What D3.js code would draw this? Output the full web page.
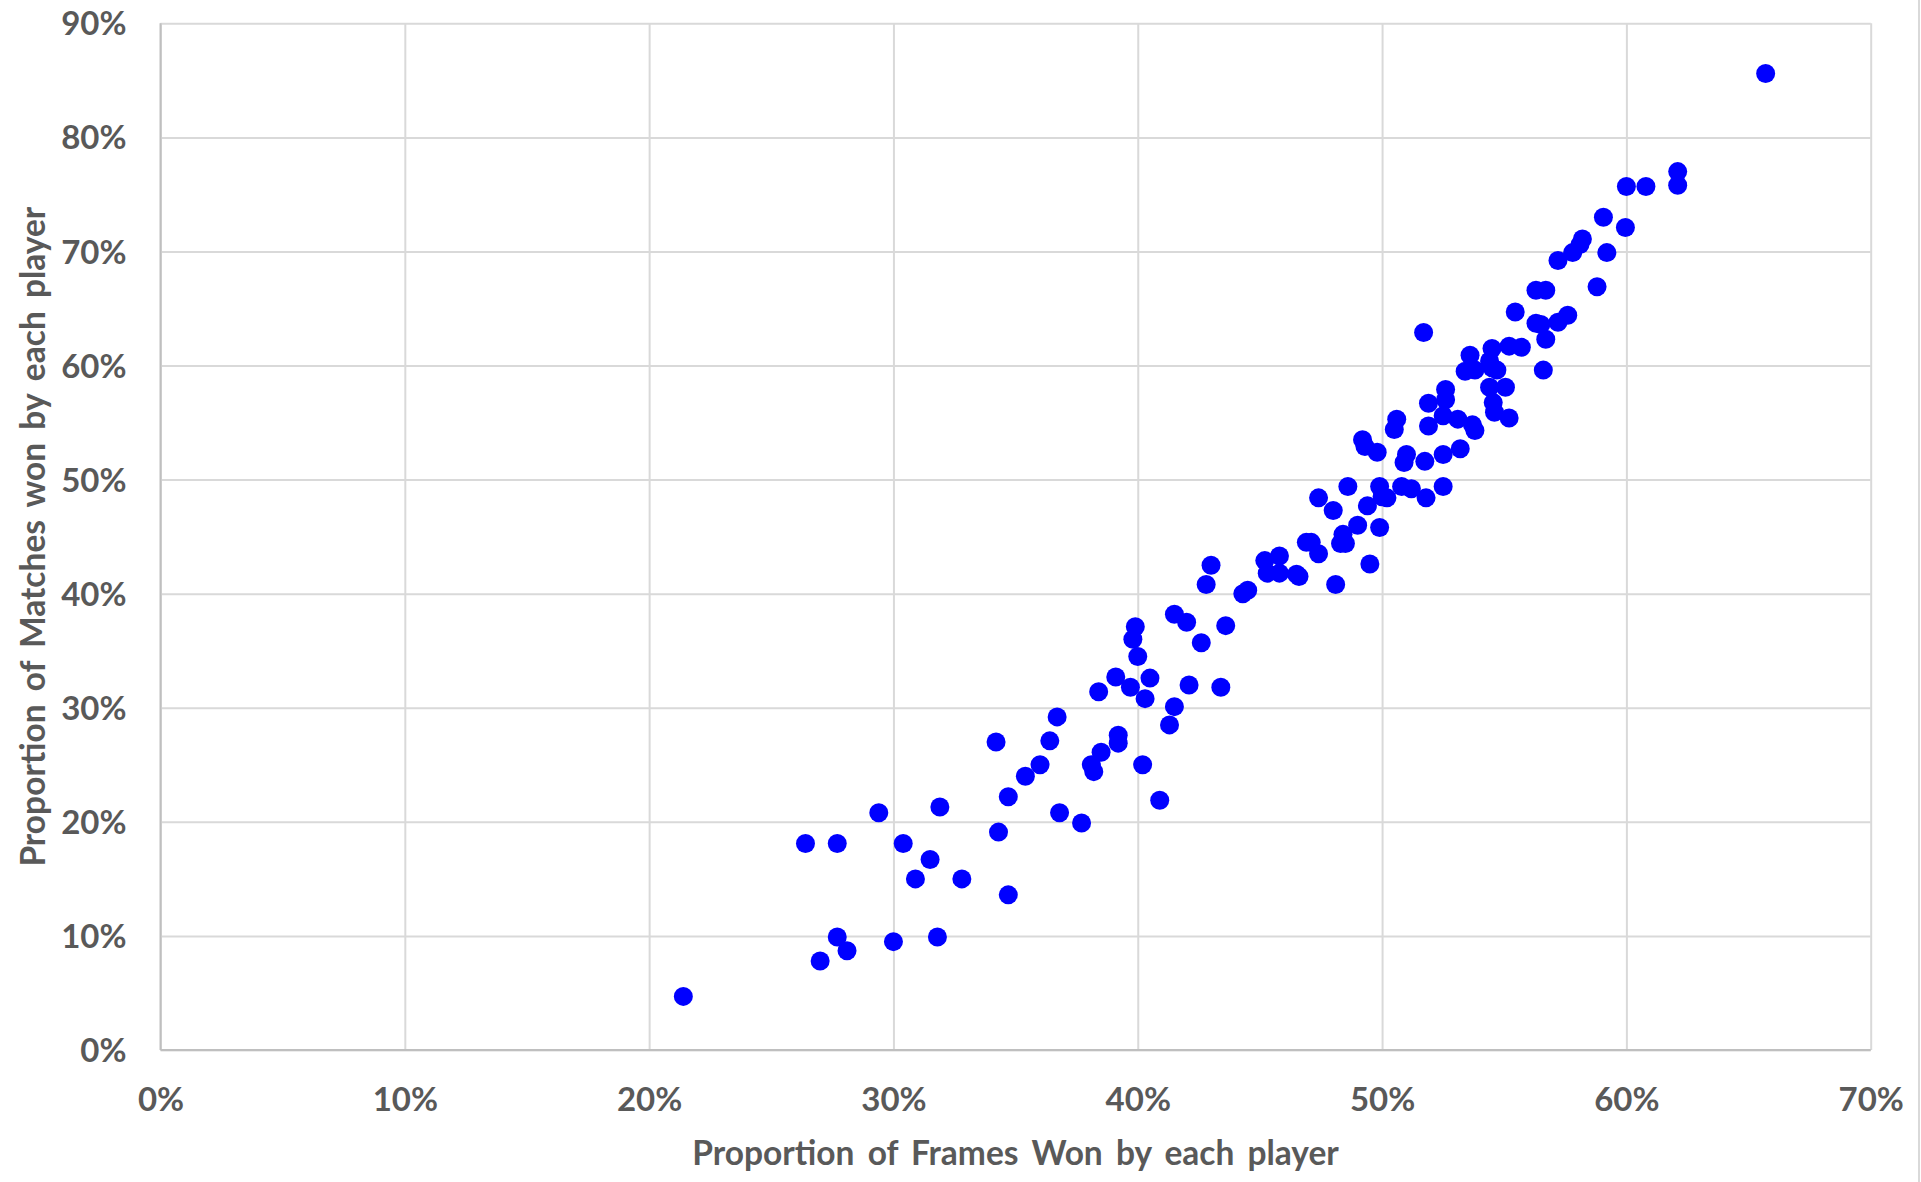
<!DOCTYPE html>
<html>
<head>
<meta charset="utf-8">
<script src="https://cdn.jsdelivr.net/npm/d3@7"></script>
<style>
    html, body { margin: 0; padding: 0; background: #fff; }
    svg { display: block; }
    text { font-family: Lato, 'Open Sans', sans-serif; font-weight: 700; fill: #595959; }
</style>
</head>
<body>
<div id="chart"></div>
<script>
// proportion of frames won (x) and matches won (y), one entry per player
const framesWon = [
    21.4, 26.4, 27.7, 27.7, 27.0, 28.1, 29.4, 30.0, 30.4, 30.9,
    31.5, 31.8, 31.9, 32.8, 34.2, 34.3, 34.7, 34.7, 35.4, 36.0,
    36.4, 36.7, 36.8, 37.7, 38.1, 38.2, 38.4, 38.5, 39.1, 39.2,
    39.2, 39.7, 39.8, 39.9, 40.0, 40.2, 40.3, 40.5, 40.9, 41.3,
    41.5, 41.5, 42.0, 42.1, 42.6, 42.8, 43.0, 43.4, 43.6, 44.3,
    44.5, 45.2, 45.3, 45.8, 45.8, 46.5, 46.6, 46.9, 47.1, 47.4,
    47.4, 48.0, 48.1, 48.3, 48.4, 48.6, 48.5, 49.0, 49.2, 49.3,
    49.4, 49.5, 49.8, 49.9, 49.9, 50.0, 50.2, 50.5, 50.6, 50.8,
    50.9, 51.0, 51.2, 51.7, 51.75, 51.8, 51.9, 51.9, 52.5, 52.5,
    52.6, 52.6, 52.5, 53.1, 53.2, 53.4, 53.6, 53.7, 53.8, 53.8,
    54.4, 54.4, 54.5, 54.5, 54.55, 54.6, 54.7, 55.05, 55.2, 55.2,
    55.45, 55.7, 56.3, 56.3, 56.5, 56.6, 56.7, 56.7, 57.2, 57.2,
    57.6, 57.8, 58.1, 58.2, 58.8, 59.06, 59.2, 59.96, 60.0, 60.8,
    62.1, 62.1, 65.7
];
const matchesWon = [
    4.7, 18.1, 18.1, 9.9, 7.8, 8.7, 20.8, 9.5, 18.1, 15.0,
    16.7, 9.9, 21.3, 15.0, 27.0, 19.1, 22.2, 13.6, 24.0, 25.0,
    27.1, 29.2, 20.8, 19.9, 25.0, 24.4, 31.4, 26.1, 32.7, 27.6,
    26.9, 31.8, 36.0, 37.1, 34.5, 25.0, 30.8, 32.6, 21.9, 28.5,
    30.1, 38.2, 37.5, 32.0, 35.7, 40.8, 42.5, 31.8, 37.2, 40.0,
    40.3, 42.9, 41.8, 43.3, 41.8, 41.7, 41.5, 44.5, 44.5, 43.5,
    48.4, 47.3, 40.8, 44.4, 45.2, 49.4, 44.4, 46.0, 53.5, 52.9,
    47.7, 42.6, 52.4, 49.4, 45.8, 48.5, 48.4, 54.4, 55.3, 49.4,
    51.5, 52.2, 49.2, 62.9, 51.6, 48.4, 56.7, 54.7, 52.2, 49.4,
    57.9, 57.0, 55.6, 55.3, 52.7, 59.5, 60.9, 54.8, 59.6, 54.3,
    58.1, 60.4, 61.5, 59.8, 56.75, 55.9, 59.6, 58.1, 55.4, 61.7,
    64.7, 61.6, 63.7, 66.6, 63.6, 59.6, 62.3, 66.6, 63.8, 69.2,
    64.4, 69.9, 70.6, 71.1, 66.9, 73.0, 69.9, 72.1, 75.7, 75.7,
    77.0, 75.8, 85.6
];
const xTicks = [0, 10, 20, 30, 40, 50, 60, 70];
const yTicks = [0, 10, 20, 30, 40, 50, 60, 70, 80, 90];
const xTitle = 'Proportion of Frames Won by each player';
const yTitle = 'Proportion of Matches won by each player';

const width = 1921,
    height = 1182;
const margin = {top: 23.3, right: 50.3, bottom: 132, left: 160.5};
const plotW = width - margin.left - margin.right,
    plotH = height - margin.top - margin.bottom;

const svg = d3.select('#chart')
    .append('svg')
    .attr('width', width)
    .attr('height', height);

svg.append('rect')
    .attr('width', width)
    .attr('height', height)
    .attr('fill', '#fff');

// thin border of the chart area on the right edge
svg.append('line')
    .attr('x1', width - 2).attr('x2', width - 2)
    .attr('y1', 0).attr('y2', height)
    .attr('stroke', '#d9d9d9')
    .attr('stroke-width', 2);

const g = svg.append('g')
    .attr('transform', 'translate(' + margin.left + ',' + margin.top + ')');

let x = d3.scaleLinear().domain([0, 70]).range([0, plotW]);
let y = d3.scaleLinear().domain([0, 90]).range([plotH, 0]);

// gridlines
let xGrid = d3.axisBottom(x).tickValues(xTicks).tickSize(-plotH).tickFormat('');
let yGrid = d3.axisLeft(y).tickValues(yTicks).tickSize(-plotW).tickFormat('');

g.append('g')
    .attr('transform', 'translate(0,' + plotH + ')')
    .call(xGrid)
    .call(s => s.select('.domain').remove())
    .call(s => s.selectAll('line').attr('stroke', '#d9d9d9').attr('stroke-width', 2));

g.append('g')
    .call(yGrid)
    .call(s => s.select('.domain').remove())
    .call(s => s.selectAll('line').attr('stroke', '#d9d9d9').attr('stroke-width', 2));

// axis lines
g.append('line')
    .attr('x1', 0).attr('x2', plotW)
    .attr('y1', plotH).attr('y2', plotH)
    .attr('stroke', '#bfbfbf').attr('stroke-width', 2);
g.append('line')
    .attr('x1', 0).attr('x2', 0)
    .attr('y1', 0).attr('y2', plotH)
    .attr('stroke', '#bfbfbf').attr('stroke-width', 2);

// tick labels
let xAxis = d3.axisBottom(x).tickValues(xTicks).tickSize(0).tickPadding(0)
    .tickFormat(d => d + '%');
g.append('g')
    .attr('transform', 'translate(0,' + plotH + ')')
    .call(xAxis)
    .call(s => s.select('.domain').remove())
    .call(s => s.selectAll('text')
        .attr('y', 61)
        .attr('dy', 0)
        .style('font-size', '33px')
        .attr('fill', '#595959'));

let yAxis = d3.axisLeft(y).tickValues(yTicks).tickSize(0).tickPadding(0)
    .tickFormat(d => d + '%');
g.append('g')
    .call(yAxis)
    .call(s => s.select('.domain').remove())
    .call(s => s.selectAll('text')
        .attr('x', -34)
        .attr('dy', '0.35em')
        .style('font-size', '33px')
        .attr('fill', '#595959'));

// points
g.append('g')
    .selectAll('circle')
    .data(framesWon.map((f, i) => [f, matchesWon[i]]))
    .join('circle')
    .attr('cx', d => x(d[0]))
    .attr('cy', d => y(d[1]))
    .attr('r', 9.5)
    .attr('fill', '#0000ff');

// axis titles
svg.append('text')
    .attr('x', margin.left + plotW / 2)
    .attr('y', 1165)
    .attr('text-anchor', 'middle')
    .style('font-size', '33.5px')
    .style('word-spacing', '5px')
    .text(xTitle);

svg.append('text')
    .attr('transform', 'translate(45,' + (margin.top + plotH / 2) + ') rotate(-90)')
    .attr('text-anchor', 'middle')
    .style('font-size', '33.5px')
    .style('word-spacing', '5px')
    .text(yTitle);
</script>
</body>
</html>
